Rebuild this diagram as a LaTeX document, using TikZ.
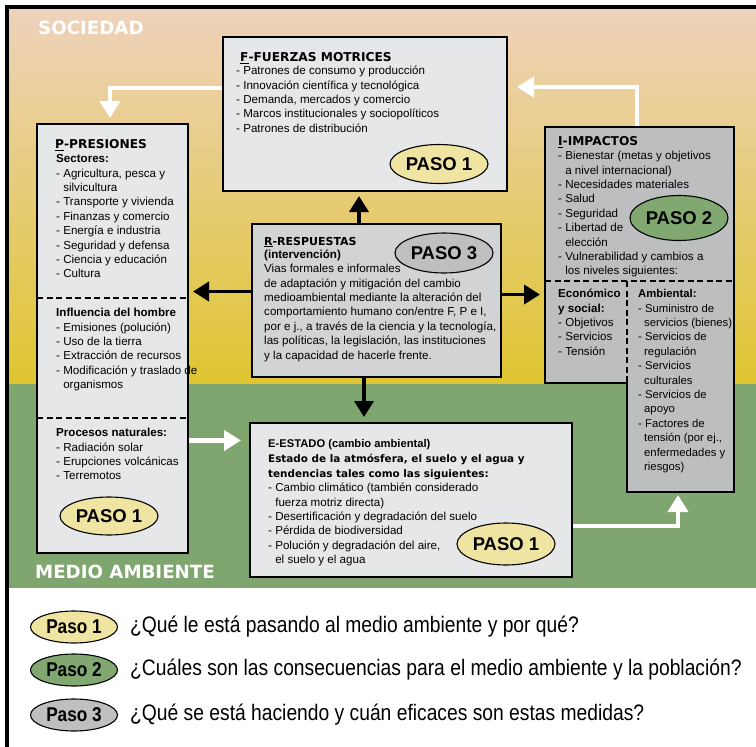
\documentclass[tikz,border=0pt]{standalone}
\usepackage{fontspec}
\setmainfont{Liberation Sans}
\newfontfamily\condfont[FakeStretch=0.86]{Liberation Sans}
\newfontfamily\heavyfont{DejaVu Sans}
\usetikzlibrary{arrows.meta,shapes.geometric,calc}
\definecolor{bgtop}{RGB}{238,210,188}
\definecolor{bgmid}{RGB}{232,203,145}
\definecolor{bgbot}{RGB}{223,197,48}
\definecolor{envgreen}{RGB}{126,166,110}
\definecolor{boxlight}{RGB}{230,231,232}
\definecolor{boxmid}{RGB}{209,211,212}
\definecolor{boxdark}{RGB}{188,190,192}
\definecolor{pasoyellow}{RGB}{240,228,162}
\definecolor{pasogreen}{RGB}{128,168,112}
\definecolor{pasogray}{RGB}{190,191,193}
\begin{document}
\begin{tikzpicture}[x=1pt,y=-1pt,
  panel/.style={draw=black, line width=1.4pt, anchor=north west, inner sep=0pt, outer sep=0pt},
  panelfill/.style={anchor=north west, inner sep=0pt, outer sep=0pt, fill=boxdark},
  txt/.style={anchor=north west, inner sep=0pt, align=left, font=\fontsize{11.6}{14.4}\selectfont},
  ttl/.style={anchor=base west, inner sep=0pt, font=\heavyfont\fontsize{12.2}{14}\selectfont\bfseries},
  paso/.style={ellipse, draw=black, line width=1.1pt, minimum width=98pt, minimum height=40pt, inner sep=0pt, font=\fontsize{18.5}{18.5}\selectfont\bfseries},
  legpaso/.style={ellipse, draw=black, line width=1.1pt, minimum width=87pt, minimum height=32pt, inner sep=0pt, font=\condfont\fontsize{20}{20}\selectfont\bfseries},
  legtxt/.style={anchor=west, inner sep=0pt, font=\condfont\fontsize{22.4}{22.4}\selectfont},
  barrow/.style={draw=black, line width=3.8pt, -{Triangle[width=19pt,length=16pt]}},
  warrow/.style={draw=white, line width=4.6pt, -{Triangle[width=20pt,length=17pt]}},
  sepline/.style={draw=black, line width=1.3pt, dash pattern=on 6pt off 3.5pt},
  zone/.style={anchor=base west, inner sep=0pt, text=white, font=\heavyfont\fontsize{18.2}{19}\selectfont\bfseries}
]
\useasboundingbox (0,0) rectangle (756,747);
\fill[white] (0,0) rectangle (756,747);
\shade[top color=bgtop, middle color=bgmid, bottom color=bgbot] (9,9) rectangle (756,384);
\fill[envgreen] (9,384) rectangle (756,588);
\draw[line width=4.5pt] (6.75,747) -- (6.75,6.75) -- (756,6.75);

\node[zone] (soc) at (38,34) {SOCIEDAD};
\node[zone] (med) at (35,578.6) {MEDIO AMBIENTE};

% boxes
\node[panel, fill=boxlight, minimum width=284pt, minimum height=154pt] (F) at (223,37) {};
\node[panel, fill=boxlight, minimum width=151pt, minimum height=429pt] (P) at (37,124) {};
\node[panel, fill=boxmid, minimum width=249pt, minimum height=153pt] (R) at (252,224) {};
\node[panel, fill=boxlight, minimum width=322pt, minimum height=154pt] (E) at (250,423) {};
\node[panelfill, minimum width=189pt, minimum height=256pt] (I) at (545,127) {};
\node[panelfill, minimum width=107pt, minimum height=109pt] (Iamb) at (627,383) {};
\draw[line width=1.4pt] (I.north west) -- (I.north east) -- (Iamb.south east) -- (Iamb.south west) -- (Iamb.north west) -- (I.south west) -- cycle;

% separators
\draw[sepline] ([yshift=-174pt]P.north west) -- ([yshift=-174pt]P.north east);
\draw[sepline] ([yshift=-294pt]P.north west) -- ([yshift=-294pt]P.north east);
\draw[sepline] ([yshift=-154pt]I.north west) -- ([yshift=-154pt]I.north east);
\draw[sepline] ([yshift=102pt]Iamb.north west) -- (Iamb.north west);

% F text
\node[ttl] (Ft) at (240,61.5) {\underline{F}-FUERZAS MOTRICES};
\node[txt] (Fl) at (236,64.5) {\rule{0pt}{10pt}- Patrones de consumo y producción\\- Innovación científica y tecnológica\\- Demanda, mercados y comercio\\- Marcos institucionales y sociopolíticos\\- Patrones de distribución};
\node[paso, fill=pasoyellow, minimum height=39pt] (pF) at (439,164) {PASO 1};

% P text
\node[ttl] (Pt) at (55,148.5) {\underline{P}-PRESIONES};
\node[txt] (Pl1) at (56,152.5) {\rule{0pt}{10pt}\textbf{Sectores:}\\- Agricultura, pesca y\\\hphantom{- }silvicultura\\- Transporte y vivienda\\- Finanzas y comercio\\- Energía e industria\\- Seguridad y defensa\\- Ciencia y educación\\- Cultura};
\node[txt] (Pl2) at (56,306.5) {\rule{0pt}{10pt}\textbf{Influencia del hombre}\\- Emisiones (polución)\\- Uso de la tierra\\- Extracción de recursos\\- Modificación y traslado de\\\hphantom{- }organismos};
\node[txt] (Pl3) at (56,426.5) {\rule{0pt}{10pt}\textbf{Procesos naturales:}\\- Radiación solar\\- Erupciones volcánicas\\- Terremotos};
\node[paso, fill=pasoyellow, minimum height=38pt] (pP) at (109,516) {PASO 1};

% R text
\node[ttl, font=\heavyfont\fontsize{11}{13}\selectfont\bfseries] (Rt) at (264,245) {\underline{R}-RESPUESTAS};
\node[txt] (Rl) at (264,248) {\rule{0pt}{10pt}\textbf{(intervención)}\\Vias formales e informales\\de adaptación y mitigación del cambio\\medioambiental mediante la alteración del\\comportamiento humano con/entre F, P e I,\\por e j., a través de la ciencia y la tecnología,\\las políticas, la legislación, las instituciones\\y la capacidad de hacerle frente.};
\node[paso, fill=pasogray] (pR) at (444,253) {PASO 3};

% I text
\node[ttl] (It) at (558,145.5) {\underline{I}-IMPACTOS};
\node[txt] (Il) at (558,149.5) {\rule{0pt}{10pt}- Bienestar (metas y objetivos\\\hphantom{- }a nivel internacional)\\- Necesidades materiales\\- Salud\\- Seguridad\\- Libertad de\\\hphantom{- }elección\\- Vulnerabilidad y cambios a\\\hphantom{- }los niveles siguientes:};
\node[paso, fill=pasogreen, minimum height=45pt] (pI) at (679,218) {PASO 2};
\node[txt] (Iec) at (558,287.5) {\rule{0pt}{10pt}\textbf{Económico}\\\textbf{y social:}\\- Objetivos\\- Servicios\\- Tensión};
\node[txt, font=\fontsize{11.3}{14.4}\selectfont] (Iam) at (638,287.5) {\rule{0pt}{10pt}\textbf{Ambiental:}\\- Suministro de\\\hspace*{6pt}servicios (bienes)\\- Servicios de\\\hspace*{6pt}regulación\\- Servicios\\\hspace*{6pt}culturales\\- Servicios de\\\hspace*{6pt}apoyo\\- Factores de\\\hspace*{6pt}tensión (por ej.,\\\hspace*{6pt}enfermedades y\\\hspace*{6pt}riesgos)};

% E text
\node[ttl, font=\fontsize{11.2}{13}\selectfont\bfseries] (Et) at (268,447) {E-ESTADO (cambio ambiental)};
\node[txt, font=\heavyfont\fontsize{10.4}{14.4}\selectfont\bfseries] (Es) at (268,452.5) {\rule{0pt}{10pt}Estado de la atmósfera, el suelo y el agua y\\tendencias tales como las siguientes:};
\node[txt] (El) at (268,481.5) {\rule{0pt}{10pt}- Cambio climático (también considerado\\\hphantom{- }fuerza motriz directa)\\- Desertificación y degradación del suelo\\- Pérdida de biodiversidad\\- Polución y degradación del aire,\\\hphantom{- }el suelo y el agua};
\node[paso, fill=pasoyellow, minimum height=42pt] (pE) at (506,544) {PASO 1};

% black arrows
\coordinate (rfs) at ([xshift=-17.5pt]R.north);
\draw[barrow, shorten >=5pt] (rfs) -- (rfs |- F.south);
\coordinate (rps) at ([yshift=9pt]R.west);
\draw[barrow, shorten >=5pt] (rps) -- (rps -| P.east);
\coordinate (ris) at ([yshift=6pt]R.east);
\draw[barrow, shorten >=5pt] (ris) -- (ris -| I.west);
\coordinate (res) at ([xshift=-12.5pt]R.south);
\draw[barrow, shorten >=6pt] (res) -- (res |- E.north);

% white arrows
\coordinate (fps) at ([yshift=-51pt]F.north west);
\draw[warrow, shorten <=0.7pt] (fps) -| ([xshift=-2.5pt,yshift=6pt]P.north);
\coordinate (ifs) at ([xshift=92pt]I.north west);
\draw[warrow, shorten <=0.7pt] (ifs) |- ([xshift=10pt,yshift=-50pt]F.north east);
\coordinate (pes) at ([yshift=-102pt]P.east);
\draw[warrow, shorten >=9pt, shorten <=0.7pt] (pes) -- (pes -| E.west);
\coordinate (eis) at ([yshift=-26pt]E.east);
\draw[warrow, shorten >=3pt, shorten <=0.7pt] (eis) -| ([xshift=-2.5pt]Iamb.south);

% legend
\node[legpaso, fill=pasoyellow] (L1) at (74,627) {Paso 1};
\node[legtxt] (L1t) at (130,627) {¿Qué le está pasando al medio ambiente y por qué?};
\node[legpaso, fill=pasogreen] (L2) at (74,670) {Paso 2};
\node[legtxt] (L2t) at (130,670) {¿Cuáles son las consecuencias para el medio ambiente y la población?};
\node[legpaso, fill=pasogray] (L3) at (74,715) {Paso 3};
\node[legtxt] (L3t) at (130,715) {¿Qué se está haciendo y cuán eficaces son estas medidas?};
\end{tikzpicture}
\end{document}
